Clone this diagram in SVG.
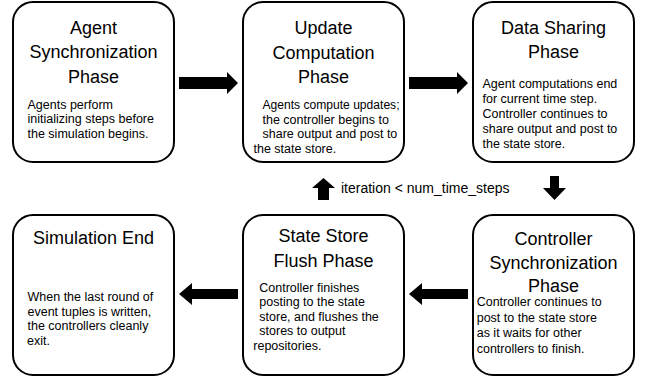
<svg xmlns="http://www.w3.org/2000/svg" width="653" height="377" viewBox="0 0 653 377">
<style>
.box{fill:#fff;stroke:#000;stroke-width:2}
.t{font-family:"Liberation Sans",Arial,sans-serif;font-size:18px;text-anchor:middle;fill:#000}
.b{font-family:"Liberation Sans",Arial,sans-serif;font-size:12.5px;fill:#000}
.lbl{font-family:"Liberation Sans",Arial,sans-serif;font-size:14px;fill:#000}
.arr{fill:#000}
</style>
<rect width="653" height="377" fill="#fff"/>
<g id="n1">
<rect class="box" x="13" y="2" width="161" height="160" rx="20"/>
<text class="t" x="93.5" y="33.5">Agent</text>
<text class="t" x="93.5" y="58">Synchronization</text>
<text class="t" x="93.5" y="82.5">Phase</text>
<text class="b" x="27.5" y="109">Agents perform</text>
<text class="b" x="27.5" y="123.3">initializing steps before</text>
<text class="b" x="27.5" y="137.6">the simulation begins.</text>
</g>
<g id="n2">
<rect class="box" x="243" y="2" width="161" height="160" rx="20"/>
<text class="t" x="323.5" y="34">Update</text>
<text class="t" x="323.5" y="58.5">Computation</text>
<text class="t" x="323.5" y="83">Phase</text>
<text class="b" x="262.5" y="109" textLength="137" lengthAdjust="spacingAndGlyphs">Agents compute updates;</text>
<text class="b" x="262.5" y="123.5">the controller begins to</text>
<text class="b" x="262.5" y="138">share output and post to</text>
<text class="b" x="253.5" y="152.5">the state store.</text>
</g>
<g id="n3">
<rect class="box" x="473" y="2" width="161" height="160" rx="20"/>
<text class="t" x="553.5" y="33.5">Data Sharing</text>
<text class="t" x="553.5" y="58">Phase</text>
<text class="b" x="482.5" y="87.5">Agent computations end</text>
<text class="b" x="482.5" y="102.5">for current time step.</text>
<text class="b" x="482.5" y="117.5">Controller continues to</text>
<text class="b" x="482.5" y="132.5">share output and post to</text>
<text class="b" x="482.5" y="147.5">the state store.</text>
</g>
<g id="n4">
<rect class="box" x="13" y="215" width="161" height="160" rx="20"/>
<text class="t" x="93.5" y="244">Simulation End</text>
<text class="b" x="27.5" y="301">When the last round of</text>
<text class="b" x="27.5" y="315.5">event tuples is written,</text>
<text class="b" x="27.5" y="330">the controllers cleanly</text>
<text class="b" x="27" y="344.5">exit.</text>
</g>
<g id="n5">
<rect class="box" x="243" y="215" width="161" height="160" rx="20"/>
<text class="t" x="323.5" y="241.5">State Store</text>
<text class="t" x="323.5" y="266.5">Flush Phase</text>
<text class="b" x="259.3" y="291.5">Controller finishes</text>
<text class="b" x="259.3" y="306">posting to the state</text>
<text class="b" x="259.3" y="320.5">store, and flushes the</text>
<text class="b" x="259.3" y="335">stores to output</text>
<text class="b" x="253.3" y="349.5">repositories.</text>
</g>
<g id="n6">
<rect class="box" x="473" y="215" width="161" height="160" rx="20"/>
<text class="t" x="553.5" y="245">Controller</text>
<text class="t" x="553.5" y="268.5">Synchronization</text>
<text class="t" x="553.5" y="292">Phase</text>
<text class="b" x="476.7" y="306">Controller continues to</text>
<text class="b" x="476.7" y="321.5">post to the state store</text>
<text class="b" x="476.7" y="337">as it waits for other</text>
<text class="b" x="476.7" y="352.5">controllers to finish.</text>
</g>
<g id="connectors">
<polygon class="arr" points="179,77 227,77 227,72 238,83 227,94 227,89 179,89"/>
<polygon class="arr" points="409,77 457,77 457,72 468,83 457,94 457,89 409,89"/>
<polygon class="arr" points="550,176 559,176 559,188 566,188 554.5,200 543,188 550,188"/>
<polygon class="arr" points="468,289 422,289 422,283 409,294 422,305 422,299 468,299"/>
<polygon class="arr" points="238,289 192,289 192,283 179,294 192,305 192,299 238,299"/>
<polygon class="arr" points="318,200 329,200 329,188 335,188 323.5,178 312,188 318,188"/>
<text class="lbl" x="341" y="193.3">iteration &lt; num_time_steps</text>
</g>
</svg>
